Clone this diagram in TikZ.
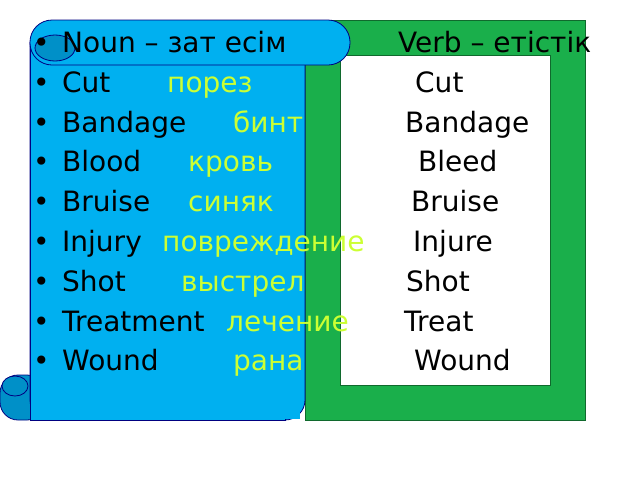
\documentclass[tikz,border=0pt]{standalone}
\usepackage{fontspec}
\setmainfont{DejaVu Sans}
\begin{document}
\begin{tikzpicture}[x=1pt,y=-1pt,
  blue/.style={fill=skyb, draw=blue!50!black, line width=0.8pt},
  dark/.style={fill=skyd, draw=blue!50!black, line width=0.8pt},
  en/.style={anchor=base west, font=\fontsize{28}{32}\selectfont, text=black, inner sep=0},
  ru/.style={anchor=base west, font=\fontsize{28}{32}\selectfont, text=yellowgreen, inner sep=0}]
\definecolor{yellowgreen}{HTML}{CCFF33}
\definecolor{grn}{HTML}{1AAF4B}
\definecolor{skyb}{HTML}{00B0F0}
\definecolor{skyd}{HTML}{0090C8}
\useasboundingbox (0,0) rectangle (640,480);
\fill[white] (0,0) rectangle (640,480);
% green frame
\path[fill=grn, draw=grn!60!black] (305,20) rectangle (585,420);
\path[fill=white, draw=grn!60!black] (340,55) rectangle (550,385);
% bottom left roll
\path[dark, rounded corners=18] (0,375) rectangle (45,420);
\path[dark] (15,386) ellipse[x radius=13, y radius=10];
% body
\path[blue, rounded corners=20] (30,42) -- (30,420) -- (305,420) -- (305,42);
\path[blue] (30,42) -- (30,420) -- (285,420) -- (285,42) -- cycle;
\path[fill=skyb] (31,41) rectangle (300,419);
% top roll
\path[blue, rounded corners=22] (30,20) rectangle (350,65);
\path[dark] (55,48) ellipse[x radius=20, y radius=13];
% texts
\foreach \y/\w [count=\i] in {42/{Noun – зат есім},82/Cut,122/Bandage,161/Blood,201/Bruise,241/Injury,281/Shot,321/Treatment,360/Wound}{
  \node[en] (b\i) at (33,\y+10) {•};
  \node[en] (e\i) at (62,\y+10) {\w};
}
\foreach \x/\y/\w [count=\i] in {167/82/порез,233/122/бинт,188/161/кровь,188/201/синяк,162/241/повреждение,181/281/выстрел,226/321/лечение,233/360/рана}{
  \node[ru] (r\i) at (\x,\y+10) {\w};
}
\foreach \x/\y/\w [count=\i] in {398/42/{Verb – етістік},415/82/Cut,405/122/Bandage,418/161/Bleed,411/201/Bruise,413/241/Injure,406/281/Shot,404/321/Treat,414/360/Wound}{
  \node[en] (v\i) at (\x,\y+10) {\w};
}
\end{tikzpicture}
\end{document}
